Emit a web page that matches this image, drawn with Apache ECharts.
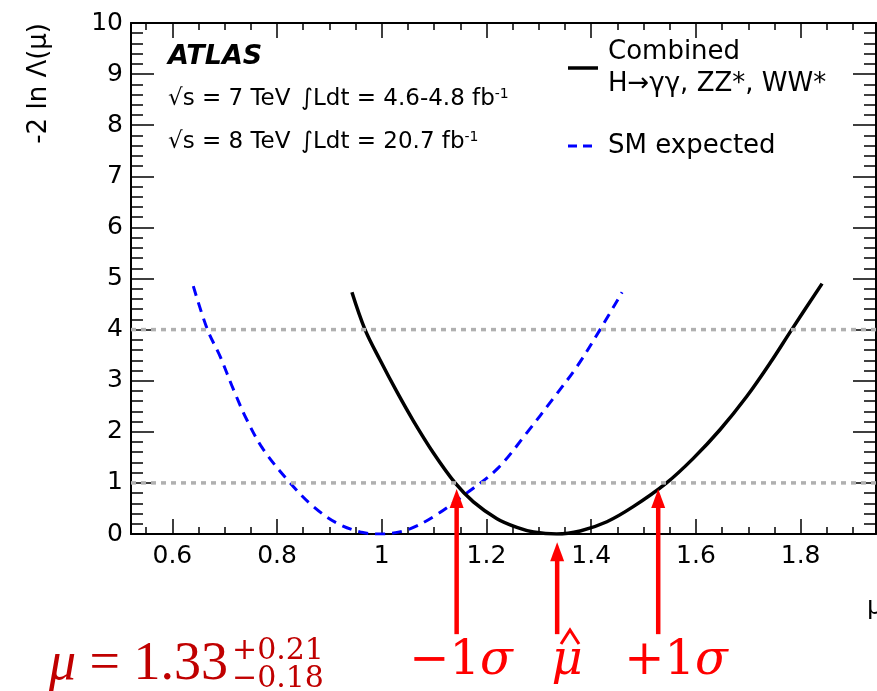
<!DOCTYPE html>
<html><head><meta charset="utf-8">
<script src="https://cdn.jsdelivr.net/npm/echarts@6/dist/echarts.min.js"></script>
<style>html,body{margin:0;padding:0;background:#fff}#c{width:877px;height:691px}</style>
</head><body><div id="c"></div>
<script>
// ---- data ----
const xMajorTicks = [0.6, 0.8, 1.0, 1.2, 1.4, 1.6, 1.8];
const xMinorTicks = [0.55, 0.65, 0.7, 0.75, 0.85, 0.9, 0.95, 1.05, 1.1, 1.15, 1.25, 1.3, 1.35, 1.45, 1.5, 1.55, 1.65, 1.7, 1.75, 1.85, 1.9];
const combinedMu  = [0.943, 0.968, 0.997, 1.029, 1.060, 1.099, 1.140, 1.175, 1.220, 1.258, 1.290, 1.334, 1.379, 1.430, 1.481, 1.544, 1.595, 1.646, 1.697, 1.742, 1.783, 1.841];
const combinedNll = [4.73, 4.00, 3.40, 2.78, 2.22, 1.58, 1.00, 0.63, 0.30, 0.13, 0.04, 0.00, 0.06, 0.24, 0.54, 1.00, 1.48, 2.04, 2.69, 3.35, 4.00, 4.90];
const expectedMu  = [0.640, 0.667, 0.691, 0.717, 0.742, 0.774, 0.825, 0.869, 0.914, 0.959, 0.997, 1.048, 1.099, 1.162, 1.222, 1.277, 1.328, 1.373, 1.417, 1.459];
const expectedNll = [4.85, 4.00, 3.48, 2.82, 2.24, 1.65, 1.00, 0.54, 0.215, 0.04, 0.00, 0.08, 0.34, 0.80, 1.29, 1.98, 2.66, 3.28, 4.00, 4.73];
const refLevels = [1, 4];
const arrowMu  = [1.143, 1.335, 1.528];
const arrowTip = [0.88, -0.16, 0.88];
const arrowBase = -1.96;
const arrowLabels = ['−1', 'μ', '+1'];
const seriesNames = ['Combined', 'H→γγ, ZZ*, WW*', 'SM expected'];

const zip = (a, b) => a.map((v, i) => [v, b[i]]);
const SANS = 'DejaVu Sans';
const XMIN = 0.521, XMAX = 1.944;

const chart = echarts.init(document.getElementById('c'), null, {renderer: 'canvas'});

function xAx(pos, ticks, len, withLabel, withLine) {
  return {
    type: 'value', position: pos, min: XMIN, max: XMAX, offset: 0,
    axisLine: {show: withLine, onZero: false, lineStyle: {color: '#000', width: 2}},
    axisTick: {show: true, inside: true, length: len, customValues: ticks, lineStyle: {color: '#000', width: 1.5}},
    axisLabel: withLabel ? {show: true, customValues: ticks, margin: 10, fontFamily: SANS, fontSize: 25, color: '#000',
      formatter: v => String(Number(v.toFixed(2)))} : {show: false},
    splitLine: {show: false}
  };
}
function yAx(pos, withLabel) {
  return {
    type: 'value', position: pos, min: 0, max: 10, interval: 1,
    axisLine: {show: true, onZero: false, lineStyle: {color: '#000', width: 2}},
    axisTick: {show: true, inside: true, length: 23, lineStyle: {color: '#000', width: 1.5}},
    minorTick: {show: true, splitNumber: 5, length: 12, lineStyle: {color: '#000', width: 1.5}},
    axisLabel: withLabel ? {show: true, margin: 8, fontFamily: SANS, fontSize: 25, color: '#000'} : {show: false},
    splitLine: {show: false}
  };
}

const levelSeries = refLevels.map(v => ({
  name: 'level' + v, type: 'line', xAxisIndex: 0, yAxisIndex: 0,
  data: [[XMIN, v], [XMAX, v]], showSymbol: false, symbol: 'none', silent: true,
  lineStyle: {color: '#b0b0b0', width: 3.5, type: [5, 5], cap: 'butt'}, z: 5
}));

chart.setOption({
  animation: false,
  backgroundColor: '#fff',
  grid: {left: 131, top: 23, right: 1, bottom: 157, containLabel: false},
  xAxis: [
    xAx('bottom', xMajorTicks, 15, true, true),
    xAx('bottom', xMinorTicks, 7, false, false),
    xAx('top', xMajorTicks, 15, false, true),
    xAx('top', xMinorTicks, 7, false, false)
  ],
  yAxis: [yAx('left', true), yAx('right', false)],
  series: [
    {
      name: seriesNames[2], type: 'line', xAxisIndex: 0, yAxisIndex: 0,
      data: zip(expectedMu, expectedNll), showSymbol: false, symbol: 'none', smooth: 0.35,
      lineStyle: {color: '#0000ff', width: 3, type: [10, 7]}, itemStyle: {color: '#0000ff'}, z: 3
    },
    {
      name: seriesNames[0], type: 'line', xAxisIndex: 0, yAxisIndex: 0,
      data: zip(combinedMu, combinedNll), showSymbol: false, symbol: 'none', smooth: 0.35,
      lineStyle: {color: '#000', width: 3.5}, itemStyle: {color: '#000'}, z: 4
    }
  ].concat(levelSeries)
});

// annotations
const RED = '#ff0000', DARKRED = '#c00000';
const g = [];
arrowMu.forEach((m, i) => {
  const tip = chart.convertToPixel({xAxisIndex: 0, yAxisIndex: 0}, [m, arrowTip[i]]);
  const base = chart.convertToPixel({xAxisIndex: 0, yAxisIndex: 0}, [m, arrowBase]);
  const x = tip[0], ty = tip[1], hh = 19, hw = 7;
  g.push({type: 'line', silent: true, z: 50, shape: {x1: x, y1: ty + hh - 1, x2: x, y2: base[1]}, style: {stroke: RED, lineWidth: 4.5}});
  g.push({type: 'polygon', silent: true, z: 50, shape: {points: [[x, ty], [x - hw, ty + hh], [x + hw, ty + hh]]}, style: {fill: RED}});
});
const labelCx = [461, 567, 676];
arrowLabels.forEach((t, i) => {
  const isMu = i === 1;
  g.push({type: 'text', silent: true, z: 50, x: labelCx[i], y: 662,
    style: {
      text: isMu ? '{i|' + t + '}' : '{n|' + t + '}{i|σ}',
      align: 'center', verticalAlign: 'middle',
      rich: {
        n: {fontFamily: 'DejaVu Serif', fontSize: 48, fill: RED, fontStyle: 'normal'},
        i: {fontFamily: 'DejaVu Serif', fontSize: 48, fill: RED, fontStyle: 'italic'}
      }
    }});
});
// hat over mu
g.push({type: 'polyline', silent: true, z: 50, shape: {points: [[561, 644], [570, 630], [579, 644]]},
  style: {stroke: RED, lineWidth: 3, fill: null, lineJoin: 'miter'}});

g.push({type: 'text', silent: true, z: 50, x: 49, y: 665,
  style: {text: '{i|μ} = 1.33', verticalAlign: 'middle', align: 'left',
    fontFamily: 'Liberation Serif', fontSize: 54, fill: DARKRED,
    rich: {i: {fontFamily: 'Liberation Serif', fontSize: 54, fontStyle: 'italic', fill: DARKRED}}}});
g.push({type: 'text', silent: true, z: 50, x: 232, y: 651,
  style: {text: '+0.21', verticalAlign: 'middle', align: 'left', fontFamily: 'DejaVu Serif', fontSize: 30, fill: DARKRED}});
g.push({type: 'text', silent: true, z: 50, x: 232, y: 679,
  style: {text: '−0.18', verticalAlign: 'middle', align: 'left', fontFamily: 'DejaVu Serif', fontSize: 30, fill: DARKRED}});

// legend (drawn)
g.push({type: 'line', silent: true, z: 50, shape: {x1: 568, y1: 68, x2: 598, y2: 68}, style: {stroke: '#000', lineWidth: 3.5}});
g.push({type: 'text', silent: true, z: 50, x: 608, y: 52, style: {text: seriesNames[0], verticalAlign: 'middle', fontFamily: SANS, fontSize: 26, fill: '#000'}});
g.push({type: 'text', silent: true, z: 50, x: 608, y: 84, style: {text: seriesNames[1], verticalAlign: 'middle', fontFamily: SANS, fontSize: 26, fill: '#000'}});
g.push({type: 'line', silent: true, z: 50, shape: {x1: 568, y1: 146, x2: 598, y2: 146}, style: {stroke: '#0000ff', lineWidth: 3, lineDash: [9, 6]}});
g.push({type: 'text', silent: true, z: 50, x: 608, y: 146, style: {text: seriesNames[2], verticalAlign: 'middle', fontFamily: SANS, fontSize: 26, fill: '#000'}});

// physics labels
g.push({type: 'text', silent: true, z: 50, x: 168, y: 57,
  style: {text: 'ATLAS', verticalAlign: 'middle', fontFamily: SANS, fontSize: 27, fontWeight: 'bold', fontStyle: 'italic', fill: '#000'}});
const lumiRich = {
  t: {fontFamily: SANS, fontSize: 23, fill: '#000'},
  s: {fontFamily: SANS, fontSize: 14, fill: '#000', verticalAlign: 'top', padding: [0, 0, 10, 0]}
};
g.push({type: 'text', silent: true, z: 50, x: 168, y: 99, style: {text: '√s = 7 TeV', verticalAlign: 'middle', fontFamily: SANS, fontSize: 23, fill: '#000'}});
g.push({type: 'text', silent: true, z: 50, x: 301, y: 99, style: {text: '{t|∫Ldt = 4.6-4.8 fb}{s|-1}', verticalAlign: 'middle', rich: lumiRich}});
g.push({type: 'text', silent: true, z: 50, x: 168, y: 142, style: {text: '√s = 8 TeV', verticalAlign: 'middle', fontFamily: SANS, fontSize: 23, fill: '#000'}});
g.push({type: 'text', silent: true, z: 50, x: 301, y: 142, style: {text: '{t|∫Ldt = 20.7 fb}{s|-1}', verticalAlign: 'middle', rich: lumiRich}});
// axis titles
g.push({type: 'text', silent: true, z: 50, x: 39, y: 23, rotation: Math.PI / 2,
  style: {text: '-2 ln Λ(μ)', align: 'right', verticalAlign: 'middle', fontFamily: SANS, fontSize: 26, fill: '#000'}});
g.push({type: 'text', silent: true, z: 50, x: 867, y: 607,
  style: {text: 'μ', align: 'left', verticalAlign: 'middle', fontFamily: SANS, fontSize: 25, fill: '#000'}});

chart.setOption({graphic: g});
</script></body></html>
